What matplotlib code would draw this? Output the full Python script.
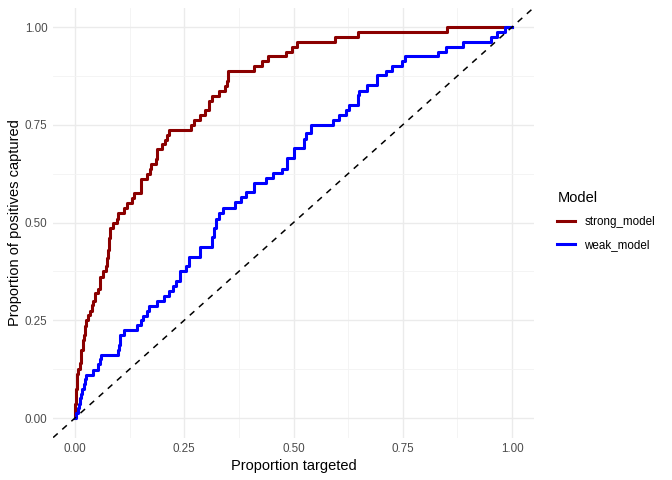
import matplotlib
matplotlib.use("Agg")
import matplotlib.pyplot as plt
import numpy as np

plt.rcParams["font.family"] = ["Liberation Sans", "DejaVu Sans"]

strong_x = [0.000, 0.001, 0.002, 0.004, 0.006, 0.011, 0.0145, 0.018, 0.020, 0.022, 0.026, 0.030,
            0.034, 0.038, 0.041, 0.045, 0.053, 0.057, 0.064, 0.072, 0.074, 0.076, 0.078, 0.079,
            0.087, 0.095, 0.098, 0.112, 0.120, 0.130, 0.134, 0.150, 0.152, 0.164, 0.172, 0.175,
            0.185, 0.187, 0.198, 0.205, 0.210, 0.216, 0.266, 0.272, 0.287, 0.298, 0.306, 0.313,
            0.329, 0.344, 0.348, 0.351, 0.410, 0.427, 0.442, 0.483, 0.496, 0.507, 0.595, 0.648,
            0.851, 1.000]
strong_y = [0.000, 0.037, 0.075, 0.112, 0.125, 0.140, 0.175, 0.200, 0.212, 0.235, 0.250, 0.263,
            0.275, 0.290, 0.300, 0.320, 0.330, 0.360, 0.375, 0.390, 0.410, 0.430, 0.460, 0.485,
            0.500, 0.510, 0.525, 0.537, 0.550, 0.562, 0.575, 0.590, 0.612, 0.625, 0.637, 0.650,
            0.662, 0.687, 0.700, 0.712, 0.725, 0.737, 0.750, 0.762, 0.775, 0.787, 0.812, 0.825,
            0.837, 0.850, 0.862, 0.887, 0.900, 0.912, 0.925, 0.937, 0.950, 0.962, 0.975, 0.987,
            1.000, 1.000]

weak_x = [0.000, 0.002, 0.006, 0.009, 0.011, 0.013, 0.015, 0.020, 0.023, 0.025, 0.041, 0.053,
          0.0565, 0.0606, 0.099, 0.101, 0.103, 0.111, 0.141, 0.150, 0.155, 0.165, 0.170, 0.187,
          0.203, 0.215, 0.2235, 0.230, 0.240, 0.253, 0.260, 0.286, 0.314, 0.319, 0.323, 0.330,
          0.339, 0.366, 0.381, 0.392, 0.409, 0.436, 0.452, 0.474, 0.486, 0.500, 0.524, 0.529,
          0.541, 0.590, 0.603, 0.620, 0.628, 0.647, 0.650, 0.669, 0.692, 0.711, 0.726, 0.749,
          0.755, 0.831, 0.848, 0.887, 0.952, 0.965, 0.984, 1.000]
weak_y = [0.000, 0.012, 0.025, 0.037, 0.050, 0.062, 0.075, 0.087, 0.100, 0.110, 0.123, 0.137,
          0.150, 0.162, 0.175, 0.187, 0.212, 0.225, 0.237, 0.250, 0.262, 0.275, 0.287, 0.300,
          0.312, 0.325, 0.337, 0.350, 0.375, 0.390, 0.412, 0.437, 0.462, 0.487, 0.510, 0.525,
          0.537, 0.553, 0.566, 0.578, 0.600, 0.613, 0.626, 0.638, 0.664, 0.690, 0.715, 0.728,
          0.750, 0.762, 0.775, 0.788, 0.800, 0.826, 0.837, 0.852, 0.877, 0.888, 0.900, 0.912,
          0.925, 0.937, 0.950, 0.962, 0.975, 0.988, 1.000, 1.000]

models = ["strong_model", "weak_model"]
colors = ["#8B0000", "#0000FF"]
ticks = [0.0, 0.25, 0.5, 0.75, 1.0]
tick_labels = ["0.00", "0.25", "0.50", "0.75", "1.00"]

fig = plt.figure(figsize=(6.72, 4.8), dpi=100)
ax = fig.add_axes([53.15 / 672, (480 - 437.55) / 480, 480.7 / 672, 430 / 480])

ax.set_xlim(-0.05, 1.05)
ax.set_ylim(-0.05, 1.05)
for s in ax.spines.values():
    s.set_visible(False)
ax.set_xticks(ticks)
ax.set_xticklabels(tick_labels)
ax.set_yticks(ticks)
ax.set_yticklabels(tick_labels)
ax.set_xticks([0.125, 0.375, 0.625, 0.875], minor=True)
ax.set_yticks([0.125, 0.375, 0.625, 0.875], minor=True)
ax.grid(True, which="major", color="#EBEBEB", linewidth=1.0)
ax.grid(True, which="minor", color="#F3F3F3", linewidth=0.6)
ax.set_axisbelow(True)
ax.tick_params(which="both", length=0, labelsize=8.4, labelcolor="#4D4D4D", pad=4)

lw = 2.2
ax.plot(strong_x, strong_y, drawstyle="steps-post", color=colors[0], linewidth=lw, label=models[0])
ax.plot(weak_x, weak_y, drawstyle="steps-post", color=colors[1], linewidth=lw, label=models[1])
ax.plot([-0.05, 1.05], [-0.05, 1.05], color="black", linestyle=(0, (4, 4)), linewidth=1.1)

ax.set_xlabel("Proportion targeted", fontsize=10.5, labelpad=3)
ax.set_ylabel("Proportion of positives captured", fontsize=10.5, labelpad=2)

leg = fig.legend(title="Model", loc="center left", bbox_to_anchor=(548 / 672, 1 - 221 / 480),
                 frameon=False, fontsize=8.4, title_fontsize=10.5, handlelength=1.5,
                 handletextpad=0.8, labelspacing=0.95, borderpad=0.3)
leg._legend_box.align = "left"

fig.savefig("out.png", dpi=100)
